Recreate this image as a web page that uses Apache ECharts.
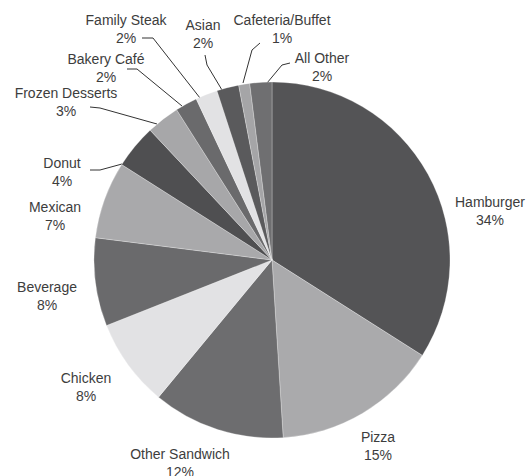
<!DOCTYPE html>
<html>
<head>
<meta charset="utf-8">
<title>Restaurant segments</title>
<script src="https://cdn.jsdelivr.net/npm/echarts@6/dist/echarts.min.js"></script>
<style>
  html, body { margin: 0; padding: 0; background: #fff; }
  #chart { width: 526px; height: 476px; }
</style>
</head>
<body>
<div id="chart"></div>
<script>
// segment shares, clockwise from 12 o'clock
var categories = ['Hamburger', 'Pizza', 'Other Sandwich', 'Chicken', 'Beverage', 'Mexican',
	'Donut', 'Frozen Desserts', 'Bakery Café', 'Family Steak', 'Asian', 'Cafeteria/Buffet', 'All Other'];
var shares = [34, 15, 12, 8, 8, 7, 4, 3, 2, 2, 2, 1, 2];

var sliceColors = ['#545456', '#aaaaac', '#6d6d6f', '#e2e2e4', '#6a6a6c', '#a9a9ab',
	'#4f4f51', '#a7a7a9', '#6a6a6c', '#e2e2e4', '#5a5a5c', '#a5a5a7', '#6f6f71'];

// where each label block sits (centre of the two lines)
var labelCenters = [
	[490, 211], [378, 446], [180, 463], [86, 387], [47, 296], [55, 216],
	[62, 172], [66, 102], [106, 68], [126, 29], [203, 34], [282, 29], [322, 67]
];

// leader lines for the small slices
var leaderLines = [null, null, null, null, null, null,
	[[122, 164], [100, 170], [90, 170]],
	[[157, 124], [100, 108], [90, 107]],
	[[182, 106], [137, 69], [127, 69]],
	[[200, 98], [153, 38], [142, 38]],
	[[222, 90], [207, 65], [205, 55]],
	[[243, 83], [252, 50], [260, 43]],
	[[267, 83], [282, 65], [290, 63]]
];

var pieData = [];
for (var i = 0; i < categories.length; i++) {
	pieData.push({
		name: categories[i],
		value: shares[i],
		itemStyle: { color: sliceColors[i] },
		labelLine: { show: !!leaderLines[i] }
	});
}

var chart = echarts.init(document.getElementById('chart'), null, { renderer: 'svg' });

chart.setOption({
	backgroundColor: '#fff',
	animation: false,
	series: [{
		type: 'pie',
		center: [272, 260],
		radius: 178,
		startAngle: 90,
		clockwise: true,
		avoidLabelOverlap: false,
		itemStyle: {
			borderColor: 'rgba(255,255,255,0.45)',
			borderWidth: 0.6
		},
		label: {
			show: true,
			position: 'outside',
			formatter: function (p) {
				return '{a|' + p.name + '}\n{a|' + p.value + '%}';
			},
			rich: {
				a: {
					align: 'center',
					fontFamily: '"Liberation Sans", Arial, sans-serif',
					fontSize: 14,
					lineHeight: 18,
					color: '#3d3d3d'
				}
			}
		},
		labelLine: {
			show: true,
			smooth: false,
			lineStyle: { color: '#333', width: 1 }
		},
		labelLayout: function (p) {
			var c = labelCenters[p.dataIndex];
			var w = p.labelRect.width;
			var h = p.labelRect.height;
			var x = c[0];
			var y = c[1];
			if (p.align === 'left') x -= w / 2;
			else if (p.align === 'right') x += w / 2;
			if (p.verticalAlign === 'top') y -= h / 2;
			else if (p.verticalAlign === 'bottom') y += h / 2;
			var out = { x: x, y: y };
			if (leaderLines[p.dataIndex]) out.labelLinePoints = leaderLines[p.dataIndex];
			return out;
		},
		data: pieData
	}]
});
</script>
</body>
</html>
